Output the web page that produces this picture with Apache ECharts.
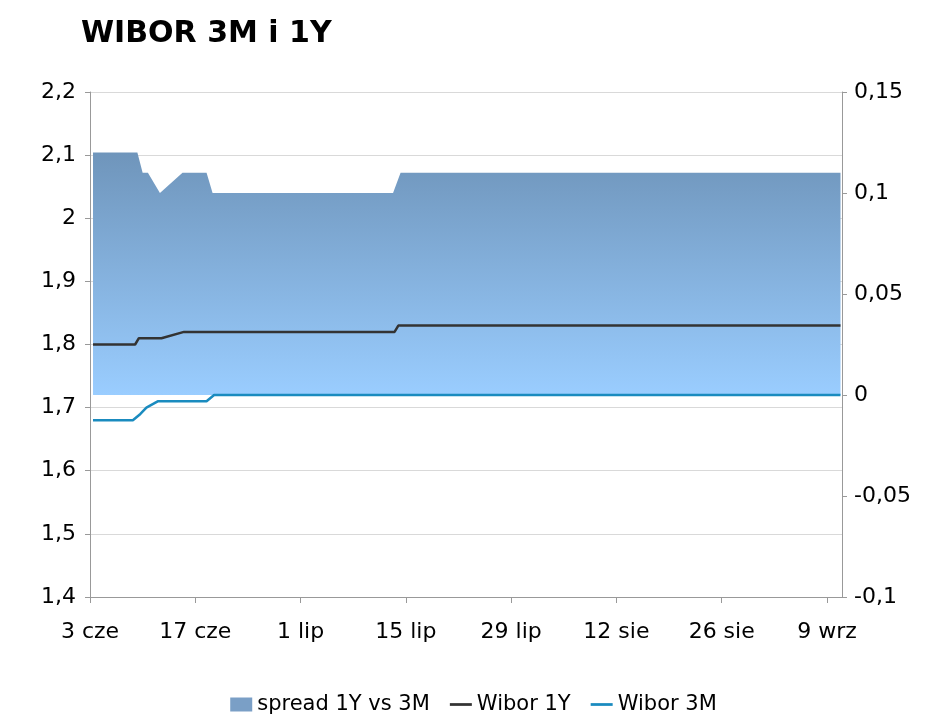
<!DOCTYPE html>
<html><head><meta charset="utf-8">
<script src="https://cdn.jsdelivr.net/npm/echarts@6/dist/echarts.min.js"></script>
<style>html,body{margin:0;padding:0;background:#fff}#c{width:947px;height:728px}</style>
</head><body><div id="c"></div>
<script>
// day offsets from 3 June
var tickLabels = ['3 cze','17 cze','1 lip','15 lip','29 lip','12 sie','26 sie','9 wrz'];
var wibor1Y = [[0.4,1.80],[6,1.80],[6.5,1.81],[9.5,1.81],[12.5,1.82],[40.5,1.82],[41,1.83],[99.8,1.83]];
var wibor3M = [[0.4,1.68],[5.7,1.68],[6.7,1.69],[7.5,1.70],[9,1.71],[15.5,1.71],[16.5,1.72],[99.8,1.72]];
var spread = [[0.4,0.12],[6.3,0.12],[7,0.11],[7.7,0.11],[9.3,0.10],[12.3,0.11],[15.5,0.11],[16.3,0.10],[40.3,0.10],[41.3,0.11],[99.8,0.11]];

var F = 'DejaVu Sans';
var fmt = function(v){return String(v).replace('.',',');};
var lineIcon = 'path://M0,0H24V3H0Z';
var chart = echarts.init(document.getElementById('c'));
chart.setOption({
  animation:false,
  title:{text:'WIBOR 3M i 1Y',left:76,top:14,textStyle:{fontFamily:F,fontSize:30,fontWeight:'bold',color:'#000'}},
  grid:{left:90,right:105,top:92,bottom:131},
  legend:{bottom:8,left:'center',itemGap:20,textStyle:{fontFamily:F,fontSize:21,color:'#000'},
    data:[{name:'spread 1Y vs 3M',icon:'rect'},{name:'Wibor 1Y',icon:lineIcon},{name:'Wibor 3M',icon:lineIcon}],itemWidth:22,itemHeight:14},
  xAxis:{type:'value',min:0,max:100,interval:14,
    axisLine:{onZero:false,lineStyle:{color:'#999'}},axisTick:{show:true,length:6,lineStyle:{color:'#999'}},
    splitLine:{show:false},
    axisLabel:{fontFamily:F,fontSize:22,color:'#000',margin:24,showMaxLabel:false,
      formatter:function(v){return tickLabels[Math.round(v/14)]||'';}}},
  yAxis:[
    {type:'value',min:1.4,max:2.2,interval:0.1,
     axisLine:{show:true,lineStyle:{color:'#999'}},axisTick:{show:true,lineStyle:{color:'#999'}},
     splitLine:{lineStyle:{color:'#d9d9d9'}},
     axisLabel:{fontFamily:F,fontSize:22,color:'#000',margin:14,formatter:function(v){return fmt(Math.round(v*10)/10);}}},
    {type:'value',min:-0.1,max:0.15,interval:0.05,
     axisLine:{show:true,lineStyle:{color:'#999'}},axisTick:{show:true,lineStyle:{color:'#999'}},
     splitLine:{show:false},
     axisLabel:{fontFamily:F,fontSize:22,color:'#000',margin:12,formatter:function(v){return fmt(Math.round(v*100)/100);}}}
  ],
  series:[
    {name:'spread 1Y vs 3M',type:'line',yAxisIndex:1,data:spread,showSymbol:false,
     itemStyle:{color:'#7a9fc6'},lineStyle:{width:0},
     areaStyle:{origin:0,opacity:1,color:new echarts.graphic.LinearGradient(0,0,0,1,[{offset:0,color:'#6f95bb'},{offset:1,color:'#9acdff'}])}},
    {name:'Wibor 1Y',type:'line',data:wibor1Y,showSymbol:false,lineStyle:{color:'#333',width:2.5},itemStyle:{color:'#333'}},
    {name:'Wibor 3M',type:'line',data:wibor3M,showSymbol:false,lineStyle:{color:'#1a8bbf',width:2.5},itemStyle:{color:'#1a8bbf'}}
  ]
});
</script></body></html>
